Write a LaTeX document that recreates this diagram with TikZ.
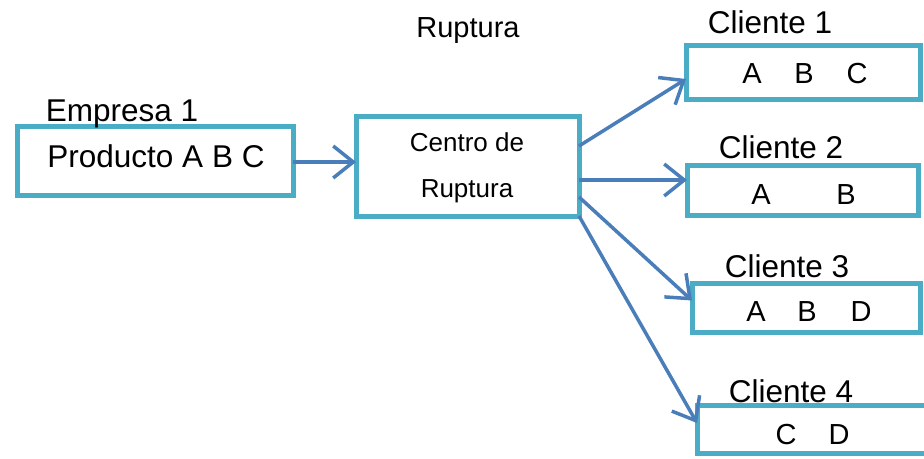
\documentclass[tikz,border=0pt]{standalone}
\usepackage{fontspec}
\setmainfont{Liberation Sans}
\usetikzlibrary{arrows.meta}
\definecolor{boxline}{HTML}{4BACC6}
\definecolor{flow}{HTML}{4A7EBB}
\tikzset{
  box/.style={draw=boxline, line width=5pt, fill=white, rectangle, outer sep=0pt, inner sep=0pt},
  flowarrow/.style={draw=flow, line width=3.5pt, -{Straight Barb[length=20pt,width=32pt,line width=3.5pt]}},
  big/.style={anchor=base, inner sep=0pt, font=\fontsize{31.5}{37}\selectfont},
  mid/.style={anchor=base, inner sep=0pt, font=\fontsize{29}{35}\selectfont},
  item/.style={anchor=base, inner sep=0pt, font=\fontsize{29}{34}\selectfont},
  small/.style={anchor=base, inner sep=0pt, font=\fontsize{26}{31}\selectfont}
}
\begin{document}
\begin{tikzpicture}[x=1pt, y=-1pt]
\useasboundingbox (0,0) rectangle (924,458);
\clip (0,0) rectangle (924,458);

% boxes
\node[box, minimum width=276pt, minimum height=69pt] (emp) at (155,160.5) {};
\node[box, minimum width=223pt, minimum height=100pt] (cen) at (467.5,166) {};
\node[box, minimum width=234pt, minimum height=54pt] (c1) at (803,72) {};
\node[box, minimum width=231pt, minimum height=50pt] (c2) at (802.5,190) {};
\node[box, minimum width=228pt, minimum height=49pt] (c3) at (806,307.5) {};
\node[box, minimum width=250pt, minimum height=48pt] (c4) at (822,429) {};

% headings
\node[mid] (tRup) at (468,37) {Ruptura};
\node[big] (tEmp) at (122,121) {Empresa 1};
\node[big] (tProd) at (156,167) {Producto A B C};
\node[big] (tC1) at (770,33) {Cliente 1};
\node[big] (tC2) at (781,158) {Cliente 2};
\node[big] (tC3) at (787,277) {Cliente 3};
\node[big] (tC4) at (791,402) {Cliente 4};
\node[small] (tCen1) at (467,151) {Centro de};
\node[small] (tCen2) at (467,197) {Ruptura};

% products per client
\node[item] (c1a) at (752,83) {A};
\node[item] (c1b) at (804,83) {B};
\node[item] (c1c) at (857,83) {C};
\node[item] (c2a) at (761,204) {A};
\node[item] (c2b) at (846,204) {B};
\node[item] (c3a) at (756,321) {A};
\node[item] (c3b) at (807,321) {B};
\node[item] (c3d) at (861,321) {D};
\node[item] (c4c) at (786,444) {C};
\node[item] (c4d) at (839,444) {D};

% flows
\draw[flowarrow] ([yshift=-1.5pt]emp.east) -- ([yshift=-1.5pt]emp.east -| cen.west);
\draw[flowarrow] ([yshift=20pt]cen.east) -- ([yshift=-7pt]c1.west);
\draw[flowarrow] ([yshift=-14pt]cen.east) -- ([yshift=10pt]c2.west);
\draw[flowarrow] ([yshift=-31pt]cen.east) -- ([yshift=7pt]c3.west);
\draw[flowarrow] (cen.south east) -- ([yshift=6pt]c4.west);
\end{tikzpicture}
\end{document}
